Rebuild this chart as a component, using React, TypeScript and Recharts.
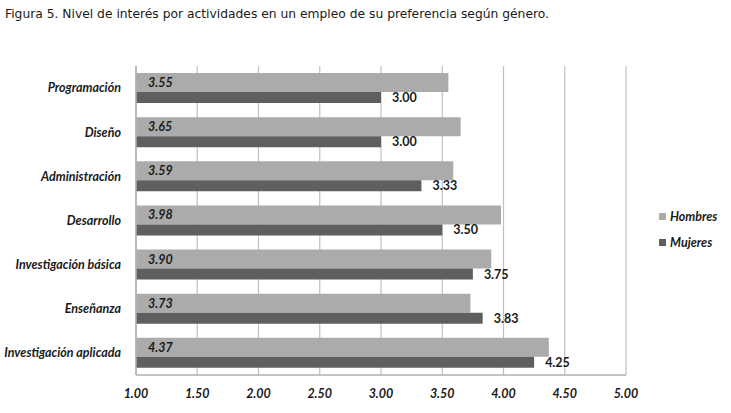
import React from 'react';
import { BarChart, Bar, XAxis, YAxis, CartesianGrid, LabelList } from 'recharts';

const title = 'Figura 5. Nivel de interés por actividades en un empleo de su preferencia según género.';
const categories = [
  'Programación',
  'Diseño',
  'Administración',
  'Desarrollo',
  'Investigación básica',
  'Enseñanza',
  'Investigación aplicada'
];
const hombres = [3.55, 3.65, 3.59, 3.98, 3.9, 3.73, 4.37];
const mujeres = [3.0, 3.0, 3.33, 3.5, 3.75, 3.83, 4.25];
const xTicks = [1, 1.5, 2, 2.5, 3, 3.5, 4, 4.5, 5];
const seriesNames = ['Hombres', 'Mujeres'];
const seriesColors = ['#ababab', '#5f5f5f'];

const data = categories.map((c, i) => ({ name: c, hombres: hombres[i], mujeres: mujeres[i] }));

const FONT = 'Lato, "Open Sans", sans-serif';
const FS = 12.5;
const fmt = (v: number) => Number(v).toFixed(2);

// category labels on one line, right aligned against the axis
const CatTick = (props: any) => {
  const { x, y, payload } = props;
  return (
    <text
      x={x}
      y={y}
      dy="0.35em"
      textAnchor="end"
      fontFamily={FONT}
      fontSize={FS}
      fontWeight={700}
      fontStyle="italic"
      fill="#1a1a1a"
    >
      {payload.value}
    </text>
  );
};

export default function App() {
  return (
    <div style={{ position: 'absolute', left: 0, top: 0, width: 731, height: 413, background: '#fff' }}>
      <div
        style={{
          position: 'absolute',
          left: 5,
          top: 7,
          fontFamily: '"DejaVu Sans", sans-serif',
          fontSize: 12.3,
          color: '#1a1a1a',
          whiteSpace: 'nowrap'
        }}
      >
        {title}
      </div>
      <BarChart
        width={731}
        height={413}
        data={data}
        layout="vertical"
        barGap={0}
        margin={{ top: 66, right: 105, bottom: 8, left: 0 }}
      >
        <CartesianGrid horizontal={false} stroke="#c0c0c0" strokeWidth={1.2} />
        <XAxis
          type="number"
          domain={[1, 5]}
          ticks={xTicks}
          interval={0}
          tickFormatter={fmt}
          height={30}
          tickLine={false}
          tickMargin={8}
          axisLine={{ stroke: '#b0b0b0', strokeWidth: 1.5 }}
          tick={{ fontFamily: FONT, fontSize: FS, fontWeight: 700, fontStyle: 'italic', fill: '#1a1a1a' }}
        />
        <YAxis
          type="category"
          dataKey="name"
          width={136}
          tickLine={false}
          tickMargin={9}
          axisLine={{ stroke: '#b0b0b0', strokeWidth: 1.5 }}
          tick={<CatTick />}
        />
        <Bar dataKey="hombres" name={seriesNames[0]} fill={seriesColors[0]} barSize={19} isAnimationActive={false}>
          <LabelList
            dataKey="hombres"
            position="insideLeft"
            offset={12}
            formatter={fmt}
            style={{ fontFamily: FONT, fontSize: FS, fontWeight: 700, fontStyle: 'italic', fill: '#1a1a1a' }}
          />
        </Bar>
        <Bar dataKey="mujeres" name={seriesNames[1]} fill={seriesColors[1]} barSize={11} isAnimationActive={false}>
          <LabelList
            dataKey="mujeres"
            position="right"
            offset={11}
            formatter={fmt}
            style={{ fontFamily: FONT, fontSize: FS, fontWeight: 700, fill: '#1a1a1a' }}
          />
        </Bar>
      </BarChart>
      <div style={{ position: 'absolute', left: 659, top: 208 }}>
        {seriesNames.map((n, i) => (
          <div key={n} style={{ display: 'flex', alignItems: 'center', height: 16, marginBottom: 10 }}>
            <span style={{ width: 7, height: 7, background: seriesColors[i], marginRight: 4, display: 'inline-block' }} />
            <span
              style={{
                fontFamily: FONT,
                fontSize: FS,
                fontWeight: 700,
                fontStyle: 'italic',
                color: '#1a1a1a'
              }}
            >
              {n}
            </span>
          </div>
        ))}
      </div>
    </div>
  );
}
